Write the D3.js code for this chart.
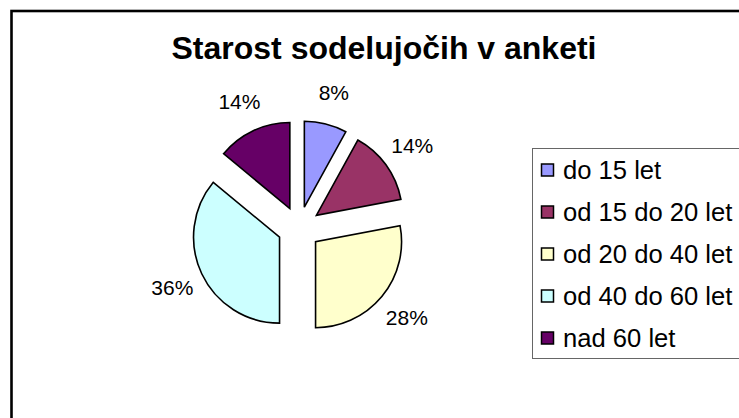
<!DOCTYPE html>
<html>
<head>
<meta charset="utf-8">
<script src="https://cdn.jsdelivr.net/npm/d3@7"></script>
<style>
  body { margin: 0; background: #fff; }
  svg { display: block; font-family: "Liberation Sans", Arial, sans-serif; }
</style>
</head>
<body>
<svg id="chart" width="739" height="418"></svg>
<script>
// data
const categories = ["do 15 let", "od 15 do 20 let", "od 20 do 40 let", "od 40 do 60 let", "nad 60 let"]
const values = [8, 14, 28, 36, 14]
const colors = ["#9999FF", "#993366", "#FFFFCC", "#CCFFFF", "#660066"]
const title = "Starost sodelujočih v anketi"

function drawChart() {
    const svg = d3.select("#chart")

    // chart area border (runs off the right / bottom of the window)
    svg.append("rect")
        .attr("x", 11.5).attr("y", 11)
        .attr("width", 900).attr("height", 600)
        .attr("fill", "#fff")
        .attr("stroke", "#000")
        .attr("stroke-width", 2.6)

    svg.append("text")
        .attr("x", 384).attr("y", 59)
        .attr("text-anchor", "middle")
        .attr("font-size", 32)
        .attr("font-weight", "bold")
        .text(title)

    // pie
    const cx = 299, cy = 228
    const radius = 86
    const explode = 21.5
    const labelDist = 140

    const pie = d3.pie().sort(null).value(d => d)
    const arcs = pie(values)
    const arc = d3.arc().innerRadius(0).outerRadius(radius)

    const mid = d => (d.startAngle + d.endAngle) / 2

    const g = svg.append("g").attr("transform", `translate(${cx},${cy})`)

    g.selectAll("path.slice")
        .data(arcs)
        .join("path")
            .attr("class", "slice")
            .attr("d", arc)
            .attr("transform", d => `translate(${explode * Math.sin(mid(d))},${-explode * Math.cos(mid(d))})`)
            .attr("fill", (d, i) => colors[i])
            .attr("stroke", "#000")
            .attr("stroke-width", 1.6)
            .attr("stroke-linejoin", "miter")

    const total = d3.sum(values)
    g.selectAll("text.label")
        .data(arcs)
        .join("text")
            .attr("class", "label")
            .attr("x", d => labelDist * Math.sin(mid(d)))
            .attr("y", d => -labelDist * Math.cos(mid(d)))
            .attr("dy", "0.36em")
            .attr("text-anchor", "middle")
            .attr("font-size", 21)
            .text(d => Math.round(d.value / total * 100) + "%")

    // legend
    const legX = 532, legY = 148, rowGap = 42, firstRow = 170
    svg.append("rect")
        .attr("x", legX + 0.5).attr("y", legY + 0.5)
        .attr("width", 300).attr("height", 210)
        .attr("fill", "#fff")
        .attr("stroke", "#666")
        .attr("stroke-width", 1)

    const rows = svg.selectAll("g.leg")
        .data(categories)
        .join("g")
            .attr("class", "leg")
            .attr("transform", (d, i) => `translate(0,${firstRow + i * rowGap})`)

    rows.append("rect")
        .attr("x", 541.5).attr("y", -6)
        .attr("width", 12).attr("height", 12)
        .attr("fill", (d, i) => colors[i])
        .attr("stroke", "#000")
        .attr("stroke-width", 1.5)

    rows.append("text")
        .attr("x", 563)
        .attr("dy", "0.36em")
        .attr("font-size", 25.6)
        .text(d => d)
}

drawChart()
</script>
</body>
</html>
